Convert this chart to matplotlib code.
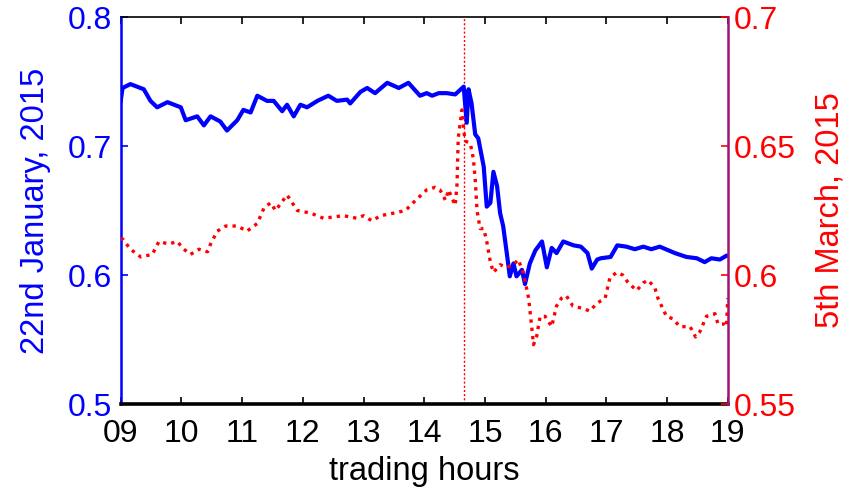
from __future__ import annotations

import matplotlib
matplotlib.use("Agg")
import matplotlib.pyplot as plt
from matplotlib import font_manager


# blue series (left axis), 22 January 2015
JAN_HOURS = [
	9.00, 9.03, 9.16, 9.38, 9.49, 9.60, 9.77, 9.99, 10.07, 10.26, 10.37, 10.48, 10.64,
	10.75, 10.92, 11.02, 11.14, 11.25, 11.41, 11.52, 11.66, 11.74, 11.85, 11.96,
	12.07, 12.24, 12.42, 12.56, 12.73, 12.78, 12.95, 13.06, 13.19, 13.39, 13.58,
	13.74, 13.93, 14.04, 14.13, 14.24, 14.37, 14.51, 14.65, 14.70, 14.73, 14.78,
	14.84, 14.89, 14.98, 15.03, 15.09, 15.14, 15.20, 15.25, 15.30, 15.36, 15.41,
	15.47, 15.52, 15.61, 15.66, 15.74, 15.83, 15.94, 16.02, 16.10, 16.18, 16.29,
	16.46, 16.58, 16.69, 16.76, 16.85, 16.91, 17.07, 17.18, 17.33, 17.47, 17.61,
	17.74, 17.88, 18.13, 18.32, 18.49, 18.62, 18.73, 18.87, 18.98, 19.00,
]
JAN_VALUES = [
	0.735, 0.745, 0.748, 0.744, 0.735, 0.730, 0.734, 0.730, 0.720, 0.723, 0.716, 0.723, 0.719,
	0.712, 0.720, 0.728, 0.726, 0.739, 0.735, 0.735, 0.727, 0.732, 0.723, 0.732,
	0.730, 0.735, 0.739, 0.735, 0.736, 0.733, 0.742, 0.745, 0.741, 0.749, 0.745,
	0.749, 0.739, 0.741, 0.739, 0.741, 0.741, 0.740, 0.746, 0.718, 0.744, 0.733,
	0.709, 0.706, 0.684, 0.653, 0.656, 0.680, 0.669, 0.648, 0.638, 0.617, 0.599,
	0.609, 0.599, 0.604, 0.593, 0.609, 0.619, 0.626, 0.606, 0.621, 0.617, 0.626,
	0.623, 0.622, 0.617, 0.605, 0.612, 0.613, 0.614, 0.623, 0.622, 0.620, 0.622,
	0.620, 0.622, 0.617, 0.614, 0.613, 0.610, 0.613, 0.612, 0.615, 0.615,
]

# red series (right axis), 5 March 2015
MAR_HOURS = [
	9.00, 9.03, 9.16, 9.33, 9.52, 9.63, 9.79, 9.93, 10.04, 10.15, 10.29, 10.43, 10.48,
	10.59, 10.73, 10.92, 11.08, 11.25, 11.36, 11.47, 11.55, 11.74, 11.91, 12.13,
	12.34, 12.67, 12.89, 13.00, 13.14, 13.28, 13.50, 13.69, 13.86, 14.04, 14.18,
	14.26, 14.35, 14.40, 14.51, 14.54, 14.56, 14.62, 14.67, 14.76, 14.81, 14.84,
	14.87, 14.92, 14.98, 15.03, 15.09, 15.14, 15.25, 15.36, 15.47, 15.55, 15.63,
	15.72, 15.77, 15.80, 15.85, 15.91, 15.99, 16.10, 16.18, 16.26, 16.34, 16.45,
	16.62, 16.73, 16.84, 16.98, 17.06, 17.17, 17.27, 17.36, 17.50, 17.61, 17.69,
	17.80, 17.85, 17.91, 17.99, 18.10, 18.21, 18.38, 18.47, 18.54, 18.65, 18.79,
	18.84, 18.95, 18.98, 19.00,
]
MAR_VALUES = [
	0.614, 0.614, 0.610, 0.607, 0.608, 0.613, 0.612, 0.613, 0.610, 0.608, 0.610, 0.609, 0.612,
	0.617, 0.619, 0.619, 0.617, 0.620, 0.626, 0.628, 0.625, 0.631, 0.625, 0.624,
	0.622, 0.623, 0.622, 0.623, 0.621, 0.623, 0.624, 0.625, 0.629, 0.633, 0.634,
	0.633, 0.629, 0.633, 0.627, 0.635, 0.653, 0.664, 0.652, 0.651, 0.645, 0.637,
	0.625, 0.618, 0.618, 0.613, 0.605, 0.601, 0.604, 0.603, 0.604, 0.606, 0.601,
	0.591, 0.580, 0.573, 0.576, 0.584, 0.584, 0.580, 0.588, 0.591, 0.592, 0.588,
	0.587, 0.586, 0.589, 0.591, 0.599, 0.601, 0.600, 0.597, 0.594, 0.597, 0.598,
	0.595, 0.591, 0.588, 0.584, 0.583, 0.580, 0.580, 0.576, 0.578, 0.584, 0.585,
	0.581, 0.581, 0.580, 0.591,
]

EVENT_HOUR = 14.65

HOUR_TICKS = list(range(9, 20))
HOUR_LABELS = [f"{h:02d}" for h in HOUR_TICKS]
LEFT_TICKS = [0.5, 0.6, 0.7, 0.8]
RIGHT_TICKS = [0.55, 0.6, 0.65, 0.7]

BLUE = "#0000ff"
RED = "#ff0000"
SPINE_RIGHT = "#a0147a"


def pick_font() -> str:
	names = {f.name for f in font_manager.fontManager.ttflist}
	for name in ["Liberation Sans", "Arial", "DejaVu Sans"]:
		if name in names:
			return name
	return "DejaVu Sans"


def main():
	plt.rcParams["font.family"] = pick_font()
	fs = 23

	fig = plt.figure(figsize=(8.46, 4.95), dpi=100)
	ax = fig.add_axes([0.1427, 0.1838, 0.7175, 0.7818])
	ax2 = ax.twinx()

	ax.plot(JAN_HOURS, JAN_VALUES, color=BLUE, linewidth=3.0, solid_joinstyle="round", zorder=3)
	ax.axvline(EVENT_HOUR, color=RED, linewidth=1.0, linestyle=(0, (1.5, 1.5)), zorder=2)
	ax2.plot(MAR_HOURS, MAR_VALUES, color=RED, linewidth=2.4, linestyle=(0, (1, 1.5)),
		dash_capstyle="butt", zorder=3)

	ax.set_xlim(9, 19)
	ax.set_ylim(0.5, 0.8)
	ax2.set_ylim(0.55, 0.7)

	ax.set_xticks(HOUR_TICKS)
	ax.set_xticklabels(HOUR_LABELS)
	ax.set_yticks(LEFT_TICKS)
	ax.set_yticklabels([f"{v:g}" for v in LEFT_TICKS])
	ax2.set_yticks(RIGHT_TICKS)
	ax2.set_yticklabels([f"{v:g}" for v in RIGHT_TICKS])

	ax.tick_params(axis="x", direction="in", top=True, length=5, width=1.2, labelsize=fs, pad=11, colors="black")
	ax.tick_params(axis="y", direction="in", length=5, width=1.2, labelsize=fs, pad=6, colors=BLUE)
	ax2.tick_params(axis="y", direction="in", length=5, width=1.2, labelsize=fs, pad=4, colors=RED)

	ax.spines["left"].set_color(BLUE)
	ax.spines["left"].set_linewidth(1.8)
	ax.spines["top"].set_color("black")
	ax.spines["top"].set_linewidth(1.2)
	ax.spines["bottom"].set_color("black")
	ax.spines["bottom"].set_linewidth(2.6)
	ax.spines["right"].set_visible(False)
	for side in ["left", "top", "bottom"]:
		ax2.spines[side].set_visible(False)
	ax2.spines["right"].set_color(SPINE_RIGHT)
	ax2.spines["right"].set_linewidth(1.8)

	ax.set_xlabel("trading hours", fontsize=fs + 0.5, labelpad=5)
	ax.set_ylabel("22nd January, 2015", fontsize=fs + 0.5, color=BLUE, labelpad=12)
	ax2.set_ylabel("5th March, 2015", fontsize=fs + 0.5, color=RED, rotation=90, labelpad=14)

	fig.savefig("out.png", dpi=100)
	plt.close(fig)


if __name__ == "__main__":
	main()
